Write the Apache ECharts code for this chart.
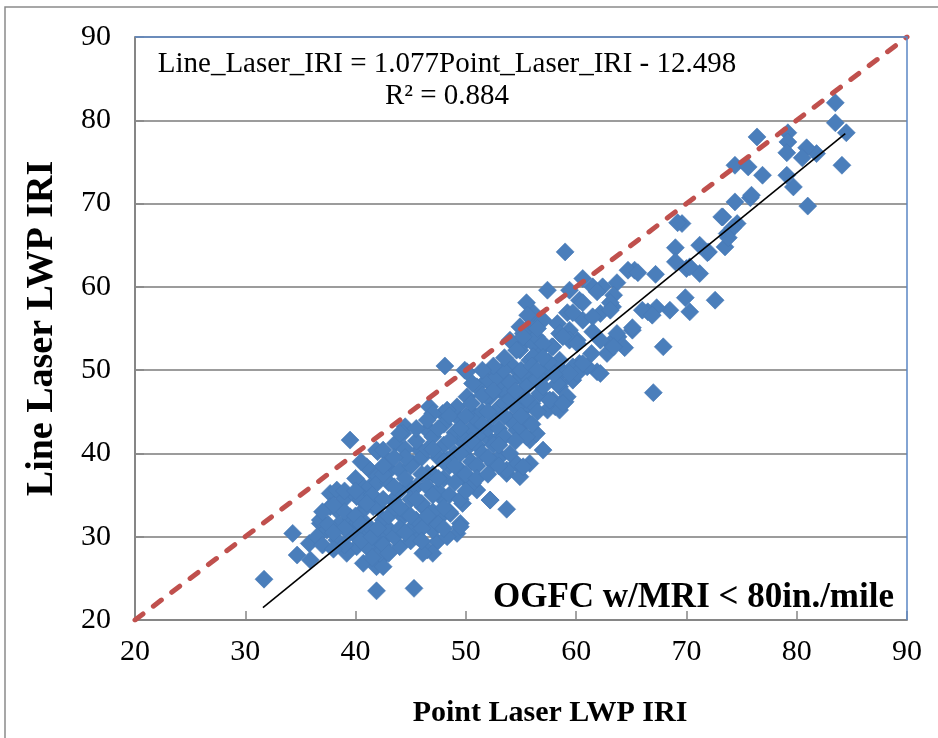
<!DOCTYPE html>
<html>
<head>
<meta charset="utf-8">
<script src="https://cdn.jsdelivr.net/npm/echarts@6/dist/echarts.min.js"></script>
<style>
html,body{margin:0;padding:0;background:#fff;}
#chart{width:938px;height:738px;}
</style>
</head>
<body>
<div id="chart"></div>
<script>
// Axis ticks
const xTicks = [20, 30, 40, 50, 60, 70, 80, 90];
const yTicks = [20, 30, 40, 50, 60, 70, 80, 90];

// Scatter points: [Point Laser LWP IRI, Line Laser LWP IRI]
const sparsePoints = [
  [31.7,24.9],[34.3,30.4],[35.8,29.2],[34.7,27.8],[35.9,27.2],[36.8,31.6],[37.7,35.2],[39.5,41.6],
  [41.9,23.5],[45.3,23.8],[48.1,50.5],[53.7,33.3],[59.0,64.2]
];
const upperRightPoints = [
  [83.5,82.1],[83.5,79.7],[84.5,78.5],[84.1,74.6],[81.0,69.7],[81.8,76.0],[80.9,76.7],[80.5,75.5],
  [79.2,78.5],[79.2,77.4],[79.1,76.1],[79.7,72.0],[79.1,73.4],[76.4,78.0],[74.4,74.6],[75.6,74.4],
  [76.9,73.4],[74.4,70.2],[75.8,70.7],[73.3,68.4],[74.6,67.6],[73.7,66.4],[73.5,64.8],[71.2,65.0],
  [72.0,64.2],[71.2,61.6],[70.0,62.2],[69.6,67.6],[72.6,58.4],[69.9,58.7],[70.3,57.0],[75.9,71.0],
  [74.2,67.1],[73.8,65.9]
];
const midRightPoints = [
  [69.2,67.7],[67.9,52.8],[67.0,47.3],[68.5,57.2],[67.3,57.5],[66.5,57.0],[66.0,57.2],[65.1,54.8],
  [64.4,52.7],[67.2,61.5],[65.3,62.0],[64.7,62.0],[69.0,64.7],[69.0,63.0],[70.3,62.4],[71.9,64.1],
  [73.2,68.4],[60.6,61.0],[63.7,60.5],[62.4,60.0],[59.4,59.6],[61.5,60.0],[63.4,59.0],[63.3,57.6],
  [62.2,56.8],[60.3,58.4],[59.2,56.9],[60.6,56.0],[59.4,54.8],[61.5,54.6],[63.8,54.0],[63.1,53.2],
  [62.8,52.0],[61.4,52.0],[60.3,50.8],[61.9,49.8],[59.7,48.8],[58.8,49.8],[59.0,46.2],[65.6,61.7],
  [57.4,59.6],[61.9,59.4],[63.1,58.1],[60.6,58.1],[56.1,56.0],[55.5,54.8],[54.9,52.8],[58.3,55.6],
  [61.5,56.4],[63.1,57.2],[63.7,54.4],[65.1,55.1],[66.9,56.6],[57.9,52.8],[58.5,54.4],[60.1,53.6],
  [62.2,53.6],[63.4,52.8],[61.0,50.4],[62.2,49.6],[59.7,50.4],[58.5,48.0],[59.2,46.8],[57.6,46.4],
  [57.0,49.2],[55.8,51.2],[54.9,49.2],[53.7,48.0],[56.7,52.4],[56.1,53.2],[56.1,56.9],[55.5,58.1],
  [54.9,55.2],[54.0,53.6],[57.9,50.4],[58.1,45.6],[53.1,49.4],[53.7,50.4]
];
const centerPoints = [
  [55.6,56.6],[57.0,56.0],[55.2,54.4],[56.4,54.0],[54.9,52.4],[56.1,51.6],[57.8,52.8],[58.5,51.2],
  [59.4,53.6],[59.7,56.9],[60.1,49.6],[58.5,48.4],[57.9,46.4],[57.0,50.0],[56.1,48.8],[54.3,50.4],
  [53.7,48.8],[49.9,50.0],[51.9,48.8],[52.8,49.6],[51.0,48.0],[53.1,47.6],[52.2,46.8],[50.1,46.8],
  [49.2,45.6],[46.7,45.6],[47.9,44.8],[50.6,44.8],[44.5,43.2],[54.3,46.8],[55.2,45.6],[56.7,47.2],
  [57.4,45.2],[58.5,45.2],[50.1,49.8],[42.0,40.2],[43.6,41.2],[44.3,42.4],[46.7,42.8],[47.0,44.8],
  [48.3,45.2],[45.8,40.4],[45.2,38.8],[43.1,38.0],[41.3,38.0],[40.7,36.0],[38.9,34.8],[38.3,33.2],
  [39.5,32.4],[40.7,30.8],[41.6,28.8],[40.1,28.8],[42.8,30.0],[46.5,28.4],[47.4,29.4],[49.2,30.4],
  [49.5,31.6],[46.7,31.6],[47.7,32.4],[47.9,34.8],[49.7,34.0],[51.0,35.6],[50.4,36.8],[52.2,34.4],
  [52.5,38.8],[53.7,37.6],[54.9,37.2],[54.6,38.8],[53.1,39.6],[55.8,38.8],[57.0,40.4],[55.8,41.6],
  [56.4,42.4],[52.2,41.6],[54.6,42.8],[55.2,45.2],[57.6,46.4],[58.8,46.0],[58.3,48.4],[59.4,49.6],
  [60.6,50.8],[56.4,48.8],[57.6,50.0],[55.2,49.6],[53.7,47.2],[51.9,46.8],[50.6,48.4],[52.8,49.2],
  [53.4,50.0],[54.6,52.4],[55.2,54.0],[57.0,53.2],[58.8,54.0],[60.1,53.2]
];
const lowerLeftPoints = [
  [41.9,40.4],[41.0,38.4],[41.9,37.2],[38.3,35.6],[38.9,34.4],[37.7,33.6],[36.8,32.0],[37.4,30.8],
  [38.3,29.6],[40.1,30.0],[39.5,32.0],[40.7,33.2],[39.2,28.0],[40.7,26.8],[41.0,28.8],[41.9,26.4],
  [42.5,27.6],[39.8,31.2],[40.1,34.8],[41.3,36.0],[41.6,33.6],[42.5,32.0],[42.2,30.0],
  [44.0,42.4],[46.5,42.8],[42.5,40.4],[54.9,43.2],[55.5,42.0],[55.2,38.4],[53.7,38.0],[52.2,34.4],
  [50.6,36.4],[49.7,37.2],[49.5,31.2],[48.3,30.0],[47.0,30.8],[47.0,28.0],[46.1,28.0],[45.6,30.0],
  [44.0,28.8],[42.5,26.4],[52.8,41.6],[51.3,42.4],[49.5,41.6],[48.3,39.2],[46.5,37.6],[44.9,36.0],
  [43.4,34.4],[44.3,32.4],[46.1,33.6],[47.7,34.8],[48.6,32.8],[45.2,31.2],[43.1,30.8],[42.2,28.0]
];
const densePoints = [
  [38.5,31.5],[39.0,33.0],[39.5,30.5],[40.0,32.5],[40.5,34.5],[40.5,29.5],[41.0,31.5],[41.5,35.0],
  [41.5,30.0],[42.0,33.5],[42.0,36.5],[42.5,29.0],[42.5,34.5],[43.0,32.5],[43.0,36.5],[43.0,39.0],
  [43.5,30.0],[43.5,33.5],[44.0,35.5],[44.0,38.0],[44.0,31.0],[44.5,33.0],[44.5,37.0],[44.5,40.5],
  [45.0,34.5],[45.0,29.5],[45.0,38.5],[45.5,32.0],[45.5,36.0],[45.5,41.5],[46.0,34.0],[46.0,39.5],
  [46.0,31.0],[46.5,36.0],[46.5,40.5],[47.0,33.0],[47.0,37.5],[47.0,42.0],[47.5,35.5],[47.5,39.5],
  [47.5,31.5],[48.0,37.0],[48.0,41.0],[48.0,43.5],[48.5,35.0],[48.5,38.5],[48.5,33.0],[49.0,40.0],
  [49.0,42.5],[49.0,36.5],[49.5,38.0],[49.5,44.0],[49.5,34.5],[50.0,40.5],[50.0,42.0],[50.0,37.5],
  [50.5,39.0],[50.5,43.0],[50.5,46.0],[51.0,41.0],[51.0,44.0],[51.0,38.5],[51.5,40.0],[51.5,45.0],
  [51.5,47.0],[52.0,43.0],[52.0,39.5],[52.5,44.5],[52.5,41.0],[52.5,47.5],[53.0,43.0],[53.0,45.5],
  [53.5,42.0],[53.5,46.0],[54.0,44.0],[54.0,48.5],[54.5,45.5],[54.5,41.5],[55.0,47.0],[55.0,50.0],
  [55.5,44.0],[55.5,48.0],[56.0,46.0],[56.0,50.5],[56.5,45.0],[57.0,48.0],[57.5,51.0],[58.0,49.5],
  [36.5,30.0],[37.0,29.0],[37.5,31.5],[38.0,33.8],[39.0,35.5],[40.0,37.0],[39.0,29.0],[38.0,28.5]
];
const coreFillPoints = [
  [44.5,39.5],[45.5,43.0],[46.0,37.5],[46.5,44.0],[47.0,40.5],[47.5,43.0],[47.5,37.0],[48.0,39.0],
  [48.5,41.5],[48.5,44.5],[49.0,38.5],[49.5,40.0],[49.5,43.0],[50.0,35.5],[50.0,44.5],[50.5,41.5],
  [51.0,37.0],[51.5,43.5],[52.0,45.0],[52.0,37.5],[53.0,41.0],[53.0,38.5],[53.5,44.5],[54.0,40.0],
  [54.0,46.5],[54.5,47.5],[55.0,44.5],[55.5,46.5],[56.0,43.5],[56.5,50.0],[57.0,51.5],[56.5,55.0],
  [53.5,51.5],[52.5,50.5],[51.5,50.0],[39.0,31.0],[40.0,35.5],[40.5,31.5],[41.0,34.0],[41.5,27.5],
  [42.0,31.0],[42.5,37.5],[43.0,28.0],[43.5,36.0],[44.0,33.5],[44.5,30.5],[45.0,32.5],[45.5,34.5],
  [46.0,29.5],[46.5,32.5],[47.0,35.0],[48.0,31.0],[48.0,33.5],[43.5,39.5],[42.5,38.5],[40.5,39.0],
  [38.0,30.5],[37.0,33.0]
];

// Reference line (equality) and linear trendline endpoints
const equalityLine = [[20, 20], [90, 90]];
const trendLine = [[31.6, 21.5], [84.4, 78.4]];

const xTitle = 'Point Laser LWP IRI';
const yTitle = 'Line Laser LWP IRI';
const equationText = 'Line_Laser_IRI = 1.077Point_Laser_IRI - 12.498';
const r2Text = 'R² = 0.884';
const noteText = 'OGFC w/MRI < 80in./mile';

const allPoints = [].concat(sparsePoints, upperRightPoints, midRightPoints, centerPoints,
  lowerLeftPoints, densePoints, coreFillPoints);

const chart = echarts.init(document.getElementById('chart'), null, {renderer: 'canvas'});
const serif = '"Liberation Serif", "Times New Roman", serif';
const GL = 135, GT = 37, GW = 772, GH = 583;

chart.setOption({
  animation: false,
  backgroundColor: '#ffffff',
  grid: {left: GL, top: GT, width: GW, height: GH, containLabel: false, outerBoundsMode: 'none', show: false},
  xAxis: {
    type: 'value', min: 20, max: 90, interval: 10,
    axisLine: {show: true, onZero: false, lineStyle: {color: '#868686', width: 2}},
    axisTick: {show: true, inside: true, length: 9, lineStyle: {color: '#868686', width: 1.5}},
    axisLabel: {fontFamily: serif, fontSize: 30, color: '#000', margin: 17,
      formatter: v => xTicks.indexOf(v) >= 0 ? String(v) : ''},
    splitLine: {show: false}
  },
  yAxis: {
    type: 'value', min: 20, max: 90, interval: 10,
    name: yTitle, nameLocation: 'middle', nameGap: 74, nameRotate: 90,
    nameTextStyle: {fontFamily: serif, fontWeight: 'bold', fontSize: 38, color: '#000'},
    axisLine: {show: true, onZero: false, lineStyle: {color: '#868686', width: 2}},
    axisTick: {show: true, inside: true, length: 9, lineStyle: {color: '#868686', width: 1.5}},
    axisLabel: {fontFamily: serif, fontSize: 30, color: '#000', margin: 24,
      formatter: v => yTicks.indexOf(v) >= 0 ? String(v) : ''},
    splitLine: {show: true, lineStyle: {color: '#9c9c9c', width: 2}}
  },
  series: [
    {
      type: 'scatter', data: allPoints, symbol: 'diamond', symbolSize: 18,
      itemStyle: {color: '#4A7EBB', opacity: 1, borderColor: '#4679B6', borderWidth: 0.6}, z: 2
    },
    {
      type: 'line', data: trendLine, symbol: 'none', z: 3,
      lineStyle: {color: '#000', width: 1.6}
    },
    {
      type: 'line', data: equalityLine, symbol: 'none', z: 4,
      lineStyle: {color: '#C0504D', width: 5, type: [10, 13], cap: 'round'}
    }
  ],
  graphic: [
    {type: 'rect', silent: true, z: 100,
      shape: {x: 5, y: 7, width: 1200, height: 1200},
      style: {fill: 'none', stroke: '#8a8a8a', lineWidth: 1.5}},
    {type: 'polyline', silent: true, z: 100,
      shape: {points: [[GL, GT], [GL + GW, GT], [GL + GW, GT + GH]]},
      style: {fill: 'none', stroke: '#5B87C5', lineWidth: 1.5}},
    {type: 'text', silent: true, z: 101, x: 447, y: 48,
      style: {text: equationText + '\n' + r2Text, fontFamily: serif, fontSize: 29, lineHeight: 32,
        fill: '#000', align: 'center', verticalAlign: 'top'}},
    {type: 'text', silent: true, z: 101, x: 894, y: 598,
      style: {text: noteText, fontFamily: serif, fontSize: 35, fontWeight: 'bold',
        fill: '#000', align: 'right', verticalAlign: 'middle'}},
    {type: 'text', silent: true, z: 101, x: 550, y: 713,
      style: {text: xTitle, fontFamily: serif, fontSize: 30, fontWeight: 'bold',
        fill: '#000', align: 'center', verticalAlign: 'middle'}}
  ]
});
</script>
</body>
</html>
